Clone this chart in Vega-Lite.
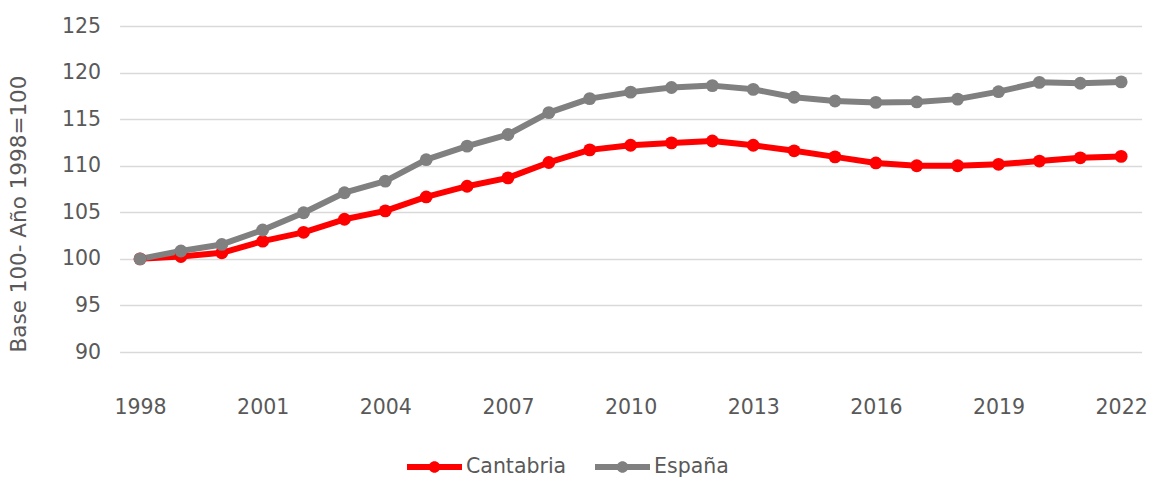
{
  "$schema": "https://vega.github.io/schema/vega-lite/v6.json",
  "width": 1022,
  "height": 372.6,
  "autosize": {"type": "none"},
  "padding": {"left": 119.6, "top": 26, "right": 9.4, "bottom": 79.4},
  "background": "white",
  "config": {
    "font": "DejaVu Sans",
    "view": {"stroke": null},
    "axis": {"labelFont": "DejaVu Sans", "titleFont": "DejaVu Sans", "labelColor": "#595959", "titleColor": "#595959"},
    "legend": {"labelFont": "DejaVu Sans", "labelColor": "#595959"}
  },
  "data": {
    "values": [
      {"year": 1998, "series": "Cantabria", "value": 100.0},
      {"year": 1999, "series": "Cantabria", "value": 100.25},
      {"year": 2000, "series": "Cantabria", "value": 100.65},
      {"year": 2001, "series": "Cantabria", "value": 101.9},
      {"year": 2002, "series": "Cantabria", "value": 102.85},
      {"year": 2003, "series": "Cantabria", "value": 104.25},
      {"year": 2004, "series": "Cantabria", "value": 105.15},
      {"year": 2005, "series": "Cantabria", "value": 106.65},
      {"year": 2006, "series": "Cantabria", "value": 107.8},
      {"year": 2007, "series": "Cantabria", "value": 108.7},
      {"year": 2008, "series": "Cantabria", "value": 110.35},
      {"year": 2009, "series": "Cantabria", "value": 111.7},
      {"year": 2010, "series": "Cantabria", "value": 112.2},
      {"year": 2011, "series": "Cantabria", "value": 112.45},
      {"year": 2012, "series": "Cantabria", "value": 112.65},
      {"year": 2013, "series": "Cantabria", "value": 112.2},
      {"year": 2014, "series": "Cantabria", "value": 111.6},
      {"year": 2015, "series": "Cantabria", "value": 110.95},
      {"year": 2016, "series": "Cantabria", "value": 110.3},
      {"year": 2017, "series": "Cantabria", "value": 110.0},
      {"year": 2018, "series": "Cantabria", "value": 110.0},
      {"year": 2019, "series": "Cantabria", "value": 110.15},
      {"year": 2020, "series": "Cantabria", "value": 110.5},
      {"year": 2021, "series": "Cantabria", "value": 110.85},
      {"year": 2022, "series": "Cantabria", "value": 111.0},
      {"year": 1998, "series": "España", "value": 100.0},
      {"year": 1999, "series": "España", "value": 100.85},
      {"year": 2000, "series": "España", "value": 101.55},
      {"year": 2001, "series": "España", "value": 103.1},
      {"year": 2002, "series": "España", "value": 104.95},
      {"year": 2003, "series": "España", "value": 107.1},
      {"year": 2004, "series": "España", "value": 108.35},
      {"year": 2005, "series": "España", "value": 110.65},
      {"year": 2006, "series": "España", "value": 112.1},
      {"year": 2007, "series": "España", "value": 113.35},
      {"year": 2008, "series": "España", "value": 115.7},
      {"year": 2009, "series": "España", "value": 117.2},
      {"year": 2010, "series": "España", "value": 117.9},
      {"year": 2011, "series": "España", "value": 118.4},
      {"year": 2012, "series": "España", "value": 118.6},
      {"year": 2013, "series": "España", "value": 118.2},
      {"year": 2014, "series": "España", "value": 117.35},
      {"year": 2015, "series": "España", "value": 116.95},
      {"year": 2016, "series": "España", "value": 116.8},
      {"year": 2017, "series": "España", "value": 116.85},
      {"year": 2018, "series": "España", "value": 117.15},
      {"year": 2019, "series": "España", "value": 117.95},
      {"year": 2020, "series": "España", "value": 118.95},
      {"year": 2021, "series": "España", "value": 118.85},
      {"year": 2022, "series": "España", "value": 119.0}
    ]
  },
  "encoding": {
    "x": {
      "field": "year",
      "type": "quantitative",
      "scale": {"domain": [1997.5, 2022.5], "nice": false, "zero": false},
      "axis": {
        "title": null,
        "values": [1998, 2001, 2004, 2007, 2010, 2013, 2016, 2019, 2022],
        "format": "d",
        "grid": false,
        "domain": false,
        "ticks": false,
        "labelFontSize": 20.5,
        "labelPadding": -1,
        "labelFlush": false
      }
    },
    "y": {
      "field": "value",
      "type": "quantitative",
      "scale": {"domain": [85, 125], "nice": false, "zero": false},
      "axis": {
        "title": "Base 100- Año 1998=100",
        "titleFontSize": 21.5,
        "titleFontWeight": "normal",
        "titleX": -100,
        "titleY": 187.5,
        "titleBaseline": "middle",
        "values": [90, 95, 100, 105, 110, 115, 120, 125],
        "grid": true,
        "gridColor": "#d9d9d9",
        "gridWidth": 1.5,
        "domain": false,
        "ticks": false,
        "labelFontSize": 20.5,
        "labelPadding": 19
      }
    },
    "color": {
      "field": "series",
      "type": "nominal",
      "scale": {"domain": ["Cantabria", "España"], "range": ["#ff0000", "#808080"]},
      "legend": {
        "title": null,
        "orient": "none",
        "direction": "horizontal",
        "legendX": 287.4,
        "legendY": 413.5,
        "symbolType": "M-1,-0.11L1,-0.11L1,0.11L-1,0.11Z M0.21,0A0.21,0.21 0 1,1 -0.21,0A0.21,0.21 0 1,1 0.21,0Z",
        "symbolSize": 3025,
        "symbolStrokeWidth": 0,
        "labelFontSize": 20.5,
        "labelOffset": 4,
        "columnPadding": 28,
        "padding": 0,
        "encode": {
          "symbols": {"update": {"fill": {"scale": "color", "field": "value"}, "stroke": {"value": "transparent"}, "opacity": {"value": 1}}}
        }
      }
    }
  },
  "layer": [
    {"mark": {"type": "line", "strokeWidth": 6, "strokeJoin": "round"}},
    {"mark": {"type": "circle", "size": 165, "opacity": 1}}
  ]
}
